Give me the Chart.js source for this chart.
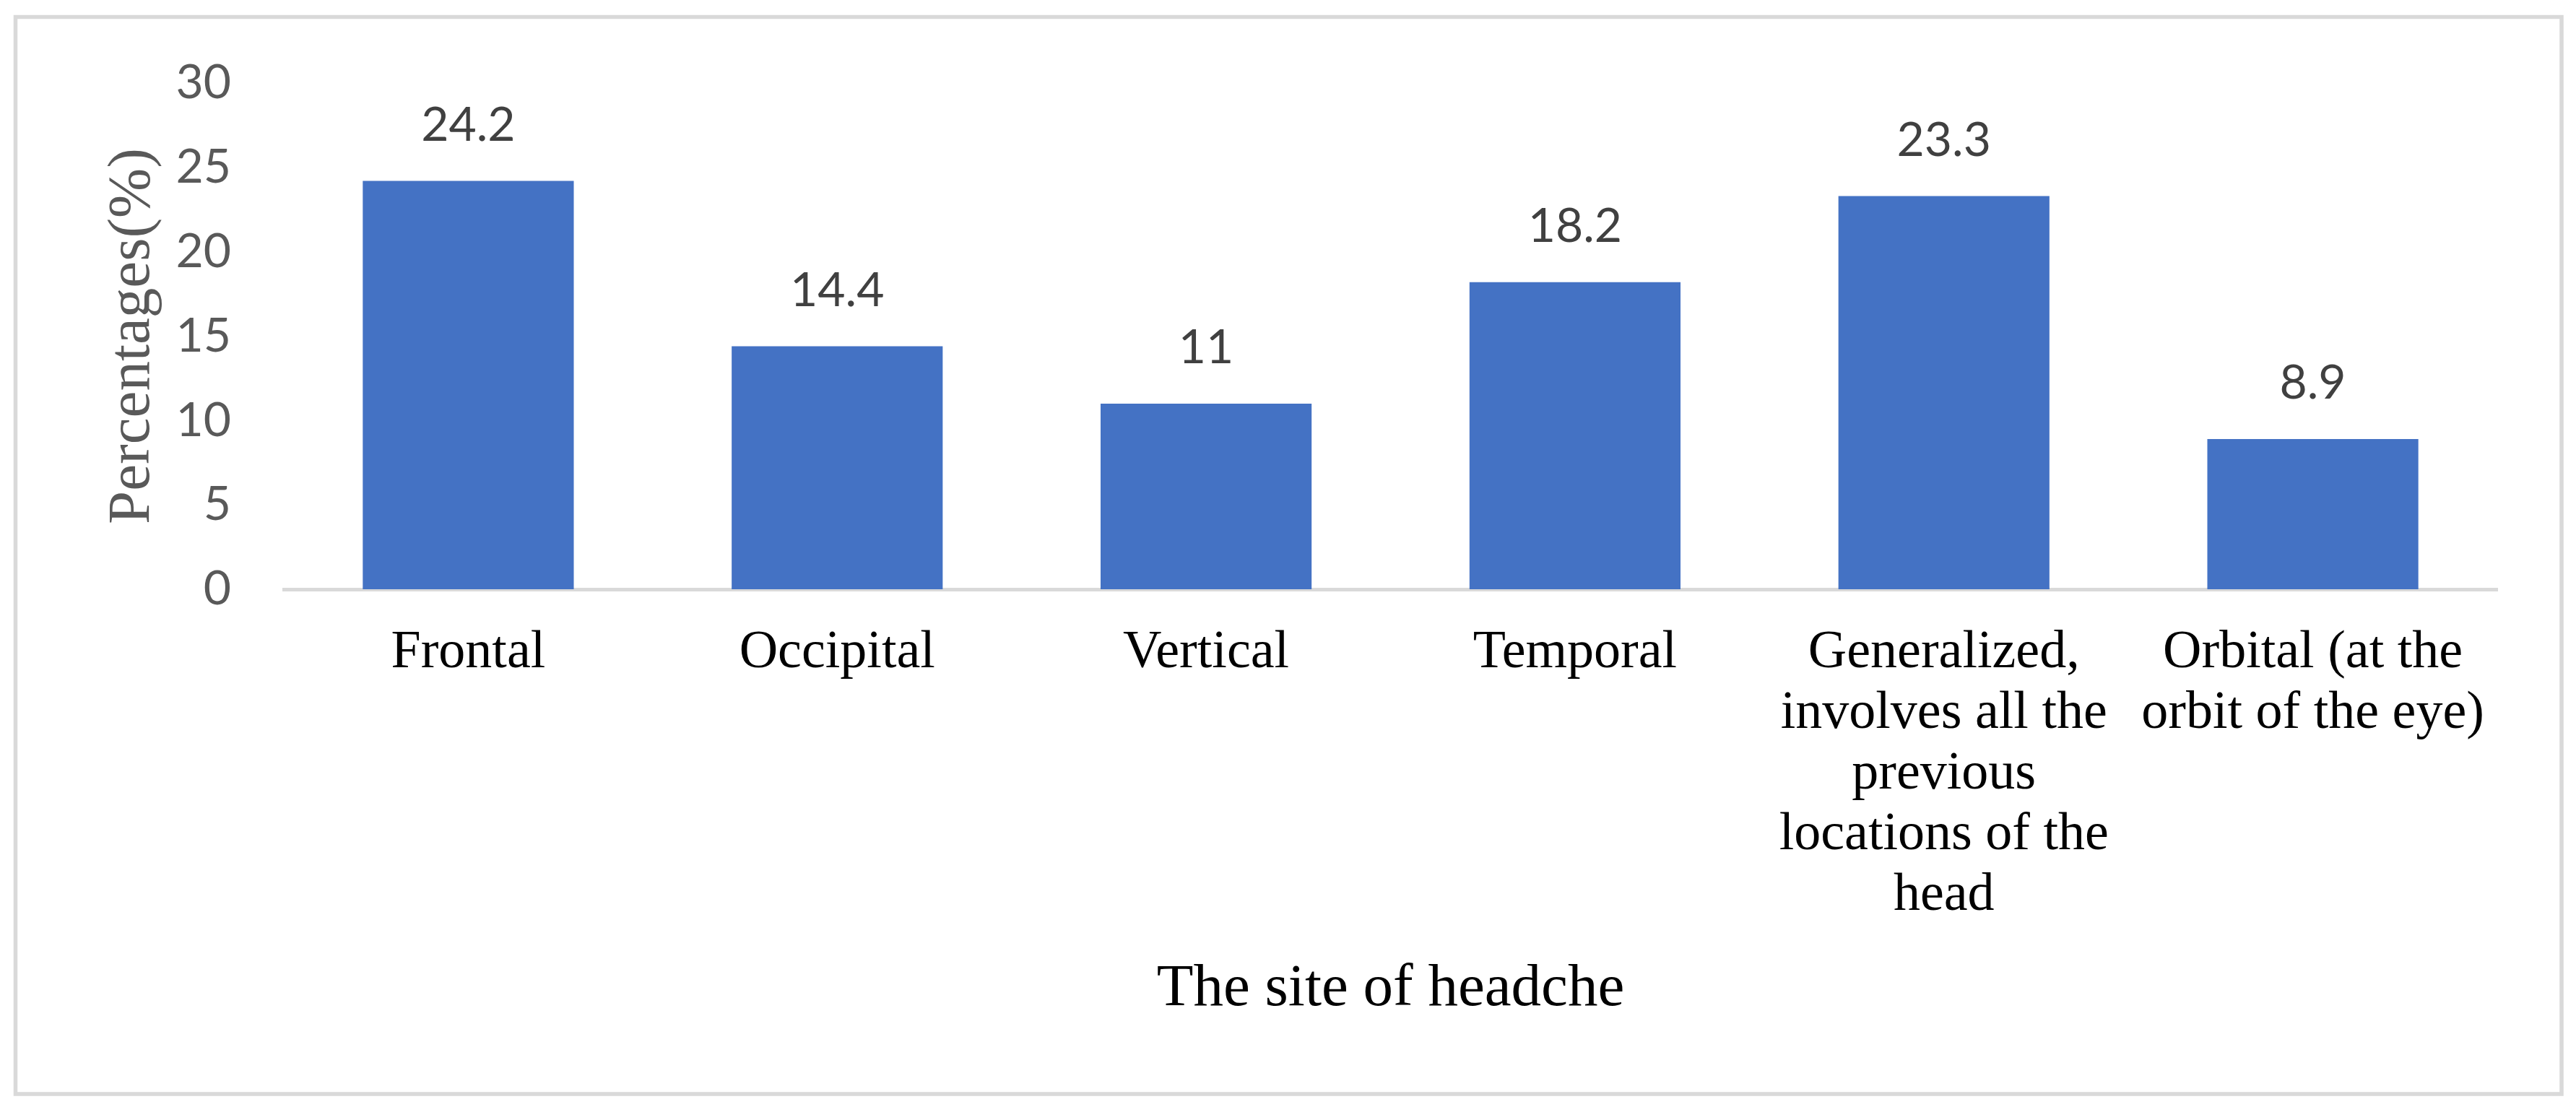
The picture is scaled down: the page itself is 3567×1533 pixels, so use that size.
<!DOCTYPE html>
<html>
<head>
<meta charset="utf-8">
<script src="https://cdn.jsdelivr.net/npm/chart.js@4.4.1/dist/chart.umd.min.js"></script>
<style>
  html, body { margin: 0; padding: 0; background: #ffffff; }
  canvas { display: block; }
</style>
</head>
<body>
<canvas id="c" width="3567" height="1533"></canvas>
<script>
const categories = [
  "Frontal",
  "Occipital",
  "Vertical",
  "Temporal",
  ["Generalized,", "involves all the", "previous", "locations of the", "head"],
  ["Orbital (at the", "orbit of the eye)"]
];
const percentages = [24.2, 14.4, 11, 18.2, 23.3, 8.9];
const yTicks = { min: 0, max: 30, step: 5 };
const xTitle = "The site of headche";
const yTitle = "Percentages(%)";

const frame = {
  id: 'frame',
  beforeDraw(chart) {
    const ctx = chart.ctx;
    ctx.save();
    ctx.fillStyle = '#ffffff';
    ctx.fillRect(0, 0, chart.width, chart.height);
    ctx.strokeStyle = '#d9d9d9';
    ctx.lineWidth = 5.5;
    ctx.strokeRect(21.5, 23.5, 3547 - 21.5, 1515 - 23.5);
    ctx.restore();
  }
};

const valueLabels = {
  id: 'valueLabels',
  afterDatasetsDraw(chart) {
    const ctx = chart.ctx;
    const meta = chart.getDatasetMeta(0);
    ctx.save();
    ctx.font = '66px Lato';
    ctx.fillStyle = '#404040';
    ctx.textAlign = 'center';
    ctx.textBaseline = 'alphabetic';
    meta.data.forEach((bar, i) => {
      ctx.fillText(String(chart.data.datasets[0].data[i]), bar.x, bar.y - 56);
    });
    ctx.restore();
  }
};

new Chart(document.getElementById('c'), {
  type: 'bar',
  data: {
    labels: categories,
    datasets: [{
      data: percentages,
      backgroundColor: '#4472c4',
      borderWidth: 0,
      barPercentage: 0.572,
      categoryPercentage: 1.0
    }]
  },
  options: {
    responsive: false,
    animation: false,
    devicePixelRatio: 1,
    layout: { padding: { left: 134, top: 115, right: 109, bottom: 113 } },
    plugins: { legend: { display: false }, tooltip: { enabled: false } },
    scales: {
      x: {
        grid: { display: false, drawTicks: false },
        border: { display: true, color: '#d9d9d9', width: 5 },
        ticks: {
          color: '#000000',
          font: { family: 'Liberation Serif', size: 74, lineHeight: 1.135 },
          padding: 47,
          maxRotation: 0,
          minRotation: 0,
          autoSkip: false
        },
        title: {
          display: true,
          text: xTitle,
          color: '#000000',
          font: { family: 'Liberation Serif', size: 83, lineHeight: 1.2 },
          padding: 0
        },
        afterFit(scale) { scale.height = 604; }
      },
      y: {
        min: yTicks.min,
        max: yTicks.max,
        grid: { display: false, drawTicks: false },
        border: { display: false },
        ticks: {
          stepSize: yTicks.step,
          color: '#595959',
          font: { family: 'Lato', size: 66 },
          padding: 73
        },
        title: {
          display: true,
          text: yTitle,
          color: '#595959',
          font: { family: 'Liberation Serif', size: 83, lineHeight: 1.2 },
          padding: 0
        },
        afterFit(scale) { scale.width = 259; }
      }
    }
  },
  plugins: [frame, valueLabels]
});
</script>
</body>
</html>
